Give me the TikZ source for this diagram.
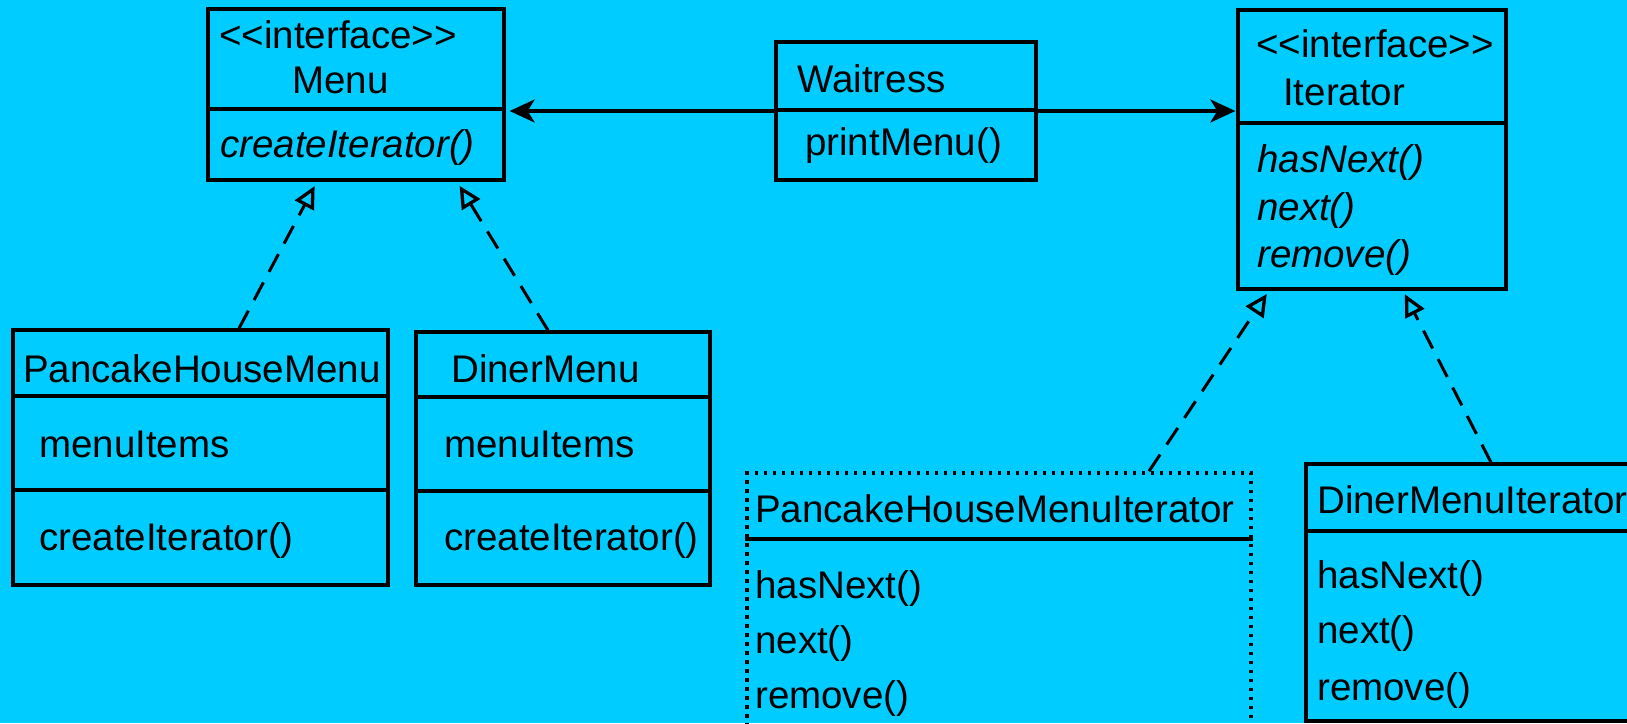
\documentclass[tikz,border=0pt]{standalone}
\usepackage{fontspec}
\setmainfont{Liberation Sans}[Ligatures=TeXOff]
\usetikzlibrary{arrows.meta,fit,positioning}
\definecolor{bgcyan}{RGB}{0,204,255}
\tikzset{
    classbox/.style = {draw, line width=3.3pt, rectangle, inner sep=0pt},
    dotbox/.style = {classbox, line width=3.5pt, dash pattern=on 3.5pt off 5.5pt},
    divider/.style = {line width=3.3pt},
    umltext/.style = {anchor=base west, inner sep=0pt, font=\fontsize{38.5}{46}\selectfont},
    umlitalic/.style = {umltext, font=\fontsize{38.5}{46}\selectfont\itshape},
    navarrow/.style = {line width=3.3pt, -{Stealth[length=25pt, width=23pt, inset=7pt]}},
    implarrow/.style = {line width=3pt, dash pattern=on 20pt off 12pt, -{Triangle[open, length=22pt, width=21pt, line width=3.3pt]}},
}

\begin{document}
\begin{tikzpicture}[x=1pt, y=-1pt]
\fill[bgcyan] (0,0) rectangle (1627,723);
\useasboundingbox (0,0) rectangle (1627,723);

% interfaces
\node[classbox, fit={(208,9) (504,180)}] (menu) {};
\draw[divider] (menu.west |- 0,109) -- (menu.east |- 0,109);
\node[umltext] (menustereo) at (219,48) {<<interface>>};
\node[umltext] (menuname) at (292,93) {Menu};
\node[umlitalic] (menuop) at (220,157) {createIterator()};

\node[classbox, fit={(1238,10) (1506,289)}] (iterator) {};
\draw[divider] (iterator.west |- 0,123) -- (iterator.east |- 0,123);
\node[umltext] (iterstereo) at (1256,57) {<<interface>>};
\node[umltext] (itername) at (1283,105) {Iterator};
\node[umlitalic] (iterop1) at (1257,172) {hasNext()};
\node[umlitalic] (iterop2) at (1257,220) {next()};
\node[umlitalic] (iterop3) at (1257,267) {remove()};

% client
\node[classbox, fit={(776,42) (1036,180)}] (waitress) {};
\draw[divider] (waitress.west |- 0,110) -- (waitress.east |- 0,110);
\node[umltext] (waitname) at (797,92) {Waitress};
\node[umltext] (waitop) at (805,155) {printMenu()};

% menus
\node[classbox, fit={(13,330) (388,585)}] (phm) {};
\draw[divider] (phm.west |- 0,396) -- (phm.east |- 0,396);
\draw[divider] (phm.west |- 0,490) -- (phm.east |- 0,490);
\node[umltext] (phmname) at (23,382) {PancakeHouseMenu};
\node[umltext] (phmattr) at (39,457) {menuItems};
\node[umltext] (phmop) at (39,550) {createIterator()};

\node[classbox, fit={(416,332) (710,585)}] (diner) {};
\draw[divider] (diner.west |- 0,397) -- (diner.east |- 0,397);
\draw[divider] (diner.west |- 0,491) -- (diner.east |- 0,491);
\node[umltext] (dinername) at (451,382) {DinerMenu};
\node[umltext] (dinerattr) at (444,457) {menuItems};
\node[umltext] (dinerop) at (444,550) {createIterator()};

% iterators
\node[dotbox, fit={(747,473) (1251,745)}] (phmi) {};
\draw[divider] (phmi.west |- 0,539) -- (phmi.east |- 0,539);
\node[umltext] (phminame) at (755,522) {PancakeHouseMenuIterator};
\node[umltext] (phmiop1) at (755,598) {hasNext()};
\node[umltext] (phmiop2) at (755,653) {next()};
\node[umltext] (phmiop3) at (755,708) {remove()};

\node[classbox, fit={(1306,464) (1660,721)}] (dmi) {};
\draw[divider] (dmi.west |- 0,531) -- (dmi.east |- 0,531);
\node[umltext] (dminame) at (1317,513) {DinerMenuIterator};
\node[umltext] (dmiop1) at (1317,588) {hasNext()};
\node[umltext] (dmiop2) at (1317,643) {next()};
\node[umltext] (dmiop3) at (1317,700) {remove()};

% associations
\draw[navarrow, shorten >=4pt] (waitress.west) -- (menu.east |- waitress.west);
\draw[navarrow, shorten >=1pt] (waitress.east) -- (iterator.west |- waitress.east);

% realizations
\draw[implarrow, shorten >=5pt] (phm.north -| 239,0) -- (menu.south -| 317,0);
\draw[implarrow, shorten >=5pt] (diner.north -| 548,0) -- (menu.south -| 457,0);
\draw[implarrow, shorten >=4pt] (phmi.north -| 1149,0) -- (iterator.south -| 1269,0);
\draw[implarrow, shorten >=4pt] (dmi.north -| 1491,0) -- (iterator.south -| 1403,0);
\end{tikzpicture}
\end{document}
